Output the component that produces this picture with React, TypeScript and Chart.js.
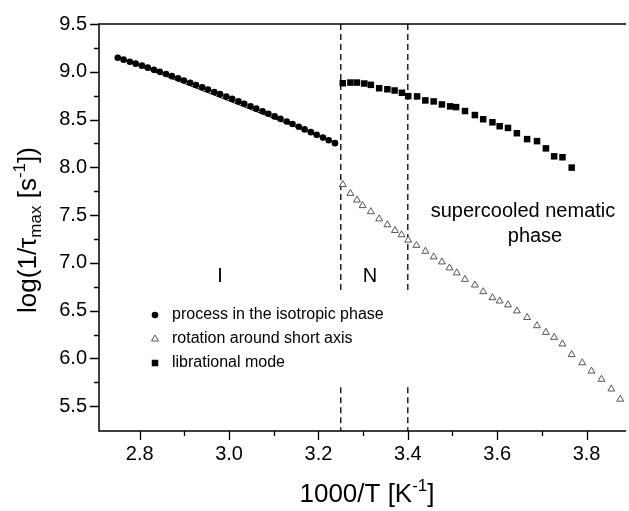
import { useEffect, useRef } from 'react';
import { Chart, registerables } from 'chart.js';

Chart.register(...registerables);

// ---- data ----
const isoX = [2.751, 2.764, 2.778, 2.791, 2.805, 2.818, 2.832, 2.845, 2.859, 2.872, 2.886, 2.899, 2.913, 2.926, 2.940, 2.953, 2.967, 2.980, 2.994, 3.007, 3.021, 3.034, 3.048, 3.061, 3.075, 3.088, 3.102, 3.115, 3.129, 3.142, 3.156, 3.169, 3.183, 3.196, 3.210, 3.223, 3.237];
const isoY = [9.147, 9.127, 9.105, 9.085, 9.064, 9.043, 9.020, 8.999, 8.977, 8.954, 8.931, 8.909, 8.885, 8.862, 8.837, 8.814, 8.789, 8.766, 8.740, 8.716, 8.690, 8.665, 8.639, 8.614, 8.587, 8.561, 8.533, 8.507, 8.479, 8.453, 8.424, 8.397, 8.368, 8.340, 8.311, 8.283, 8.253];

const fitX = [2.751, 3.237];
const fitY = [9.150, 8.262];

const rotX = [3.2545, 3.2716, 3.2863, 3.2989, 3.3173, 3.3359, 3.3543, 3.3713, 3.3860, 3.4009, 3.4193, 3.4392, 3.4579, 3.4763, 3.4933, 3.5095, 3.5279, 3.5501, 3.5687, 3.5894, 3.6055, 3.6242, 3.6441, 3.6670, 3.6891, 3.7091, 3.7275, 3.7461, 3.7667, 3.7904, 3.8111, 3.8333, 3.8554, 3.8754];
const rotY = [7.820, 7.727, 7.658, 7.599, 7.536, 7.460, 7.398, 7.339, 7.294, 7.238, 7.183, 7.121, 7.062, 7.010, 6.947, 6.895, 6.827, 6.768, 6.698, 6.635, 6.601, 6.560, 6.497, 6.428, 6.342, 6.272, 6.220, 6.151, 6.040, 5.954, 5.867, 5.781, 5.680, 5.573];

const libX = [3.2545, 3.2716, 3.2863, 3.3027, 3.3173, 3.3359, 3.3543, 3.3705, 3.3869, 3.4009, 3.4208, 3.4392, 3.4579, 3.4763, 3.4947, 3.5080, 3.5280, 3.5501, 3.5687, 3.5894, 3.6055, 3.6242, 3.6441, 3.6670, 3.6891, 3.7091, 3.7275, 3.7461, 3.7667];
const libY = [8.880, 8.887, 8.887, 8.877, 8.863, 8.828, 8.817, 8.804, 8.780, 8.745, 8.742, 8.700, 8.690, 8.658, 8.638, 8.630, 8.589, 8.547, 8.503, 8.471, 8.430, 8.412, 8.357, 8.295, 8.274, 8.198, 8.115, 8.105, 7.997];

const phaseLineX = [3.25, 3.4];
const phaseLineYSegments = [[9.5, 6.684], [5.697, 5.24]];

const xMajorTicks = [2.8, 3.0, 3.2, 3.4, 3.6, 3.8];
const xMinorTicks = [2.9, 3.1, 3.3, 3.5, 3.7];
const yMajorTicks = [5.5, 6.0, 6.5, 7.0, 7.5, 8.0, 8.5, 9.0, 9.5];
const yMinorTicks = [5.75, 6.25, 6.75, 7.25, 7.75, 8.25, 8.75, 9.25];

const legendLabels = ['process in the isotropic phase', 'rotation around short axis', 'librational mode'];
const annotations = [
  { text: 'I', x: 220, y: 276 },
  { text: 'N', x: 370, y: 276 },
  { text: 'supercooled nematic', x: 523, y: 211 },
  { text: 'phase', x: 535, y: 236 },
];

const FONT = '"Liberation Sans", Arial, sans-serif';

type Part = { t: string; k?: 'sub' | 'sup' };

function drawRich(ctx: CanvasRenderingContext2D, parts: Part[], cx: number, cy: number, size: number) {
  const small = Math.round(size * 0.65);
  let total = 0;
  for (const p of parts) {
    ctx.font = `${p.k ? small : size}px ${FONT}`;
    total += ctx.measureText(p.t).width;
  }
  let x = cx - total / 2;
  ctx.textBaseline = 'middle';
  ctx.textAlign = 'left';
  for (const p of parts) {
    ctx.font = `${p.k ? small : size}px ${FONT}`;
    const dy = p.k === 'sub' ? size * 0.3 : p.k === 'sup' ? -size * 0.35 : 0;
    ctx.fillText(p.t, x, cy + dy);
    x += ctx.measureText(p.t).width;
  }
}

function drawMarker(ctx: CanvasRenderingContext2D, style: string, x: number, y: number, r: number) {
  ctx.beginPath();
  if (style === 'circle') {
    ctx.arc(x, y, r, 0, Math.PI * 2);
    ctx.fill();
  } else if (style === 'triangle') {
    ctx.moveTo(x, y - r);
    ctx.lineTo(x + r * 0.866, y + r * 0.5);
    ctx.lineTo(x - r * 0.866, y + r * 0.5);
    ctx.closePath();
    ctx.fill();
    ctx.stroke();
  } else {
    const s = r * Math.SQRT1_2;
    ctx.rect(x - s, y - s, 2 * s, 2 * s);
    ctx.fill();
  }
}

const framePlugin = {
  id: 'frame',
  afterDraw(chart: any) {
    const ctx: CanvasRenderingContext2D = chart.ctx;
    const { left, right, top, bottom } = chart.chartArea;
    const xs = chart.scales.x;
    const ys = chart.scales.y;
    ctx.save();
    ctx.strokeStyle = '#000';
    ctx.lineWidth = 1.5;
    ctx.beginPath();
    ctx.moveTo(right + 2, top);
    ctx.lineTo(left, top);
    ctx.lineTo(left, bottom);
    ctx.lineTo(right + 2, bottom);
    ctx.stroke();
    ctx.lineWidth = 1.3;
    ctx.beginPath();
    for (const v of xMajorTicks) {
      const px = Math.round(xs.getPixelForValue(v)) + 0.5;
      ctx.moveTo(px, bottom);
      ctx.lineTo(px, bottom + 9);
    }
    for (const v of xMinorTicks) {
      const px = Math.round(xs.getPixelForValue(v)) + 0.5;
      ctx.moveTo(px, bottom);
      ctx.lineTo(px, bottom + 5);
    }
    for (const v of yMajorTicks) {
      const py = Math.round(ys.getPixelForValue(v)) + 0.5;
      ctx.moveTo(left, py);
      ctx.lineTo(left - 9, py);
    }
    for (const v of yMinorTicks) {
      const py = Math.round(ys.getPixelForValue(v)) + 0.5;
      ctx.moveTo(left, py);
      ctx.lineTo(left - 5, py);
    }
    ctx.stroke();

    ctx.fillStyle = '#000';
    // x title
    drawRich(ctx, [{ t: '1000/T [K' }, { t: '-1', k: 'sup' }, { t: ']' }], 367, 495, 26);
    // y title
    ctx.save();
    ctx.translate(29, 230);
    ctx.rotate(-Math.PI / 2);
    drawRich(ctx, [{ t: 'log(1/τ' }, { t: 'max', k: 'sub' }, { t: ' [s' }, { t: '-1', k: 'sup' }, { t: '])' }], 0, 0, 26);
    ctx.restore();

    // annotations
    ctx.font = `20px ${FONT}`;
    ctx.textAlign = 'center';
    ctx.textBaseline = 'middle';
    for (const a of annotations) ctx.fillText(a.text, a.x, a.y);

    // legend
    const styles = ['circle', 'triangle', 'rect'];
    const fills = ['#000', '#fff', '#000'];
    const strokes = ['#000', '#444', '#000'];
    const radii = [3.3, 4, 4.6];
    const rowY = [315, 339, 363];
    for (let i = 0; i < legendLabels.length; i++) {
      ctx.fillStyle = fills[i];
      ctx.strokeStyle = strokes[i];
      ctx.lineWidth = 0.9;
      drawMarker(ctx, styles[i], 155, rowY[i], radii[i]);
      ctx.fillStyle = '#000';
      ctx.font = `16px ${FONT}`;
      ctx.textAlign = 'left';
      ctx.textBaseline = 'middle';
      ctx.fillText(legendLabels[i], 172, rowY[i]);
    }
    ctx.restore();
  },
};

export default function App() {
  const ref = useRef<HTMLCanvasElement | null>(null);
  useEffect(() => {
    if (!ref.current) return;
    const pts = (xs: number[], ys: number[]) => xs.map((x, i) => ({ x, y: ys[i] }));
    const phaseDatasets = phaseLineX.map((x) => ({
      type: 'line' as const,
      data: [
        { x, y: phaseLineYSegments[0][0] },
        { x, y: phaseLineYSegments[0][1] },
        { x, y: null },
        { x, y: phaseLineYSegments[1][0] },
        { x, y: phaseLineYSegments[1][1] },
      ],
      borderColor: '#000',
      borderWidth: 1.3,
      borderDash: [6, 4],
      pointRadius: 0,
      spanGaps: false,
      fill: false,
      order: 5,
    }));
    const chart = new Chart(ref.current, {
      type: 'scatter',
      data: {
        datasets: [
          {
            label: legendLabels[0],
            data: pts(isoX, isoY),
            pointStyle: 'circle',
            pointRadius: 3.3,
            backgroundColor: '#000',
            borderColor: '#000',
            borderWidth: 0,
            order: 1,
          },
          {
            type: 'line',
            data: pts(fitX, fitY),
            borderColor: '#000',
            borderWidth: 1,
            pointRadius: 0,
            fill: false,
            order: 2,
          } as any,
          {
            label: legendLabels[1],
            data: pts(rotX, rotY),
            pointStyle: 'triangle',
            pointRadius: 4,
            backgroundColor: '#fff',
            borderColor: '#444',
            borderWidth: 0.9,
            order: 1,
          },
          {
            label: legendLabels[2],
            data: pts(libX, libY),
            pointStyle: 'rect',
            pointRadius: 4.6,
            backgroundColor: '#000',
            borderColor: '#000',
            borderWidth: 0,
            order: 1,
          },
          ...(phaseDatasets as any[]),
        ],
      },
      options: {
        animation: false,
        responsive: false,
        devicePixelRatio: 1,
        layout: { padding: { top: 21, left: 0, right: 0, bottom: 0 } },
        plugins: { legend: { display: false }, tooltip: { enabled: false } },
        scales: {
          x: {
            type: 'linear',
            min: 2.709,
            max: 3.884,
            afterBuildTicks: (s: any) => {
              s.ticks = xMajorTicks.map((v) => ({ value: v }));
            },
            afterFit: (s: any) => {
              s.height = 80;
            },
            grid: { display: false, drawTicks: false },
            border: { display: false },
            ticks: {
              autoSkip: false,
              maxRotation: 0,
              padding: 11,
              color: '#000',
              font: { family: FONT, size: 20 },
              callback: (v: any) => Number(v).toFixed(1),
            },
          },
          y: {
            type: 'linear',
            min: 5.24,
            max: 9.5,
            afterBuildTicks: (s: any) => {
              s.ticks = yMajorTicks.map((v) => ({ value: v }));
            },
            afterFit: (s: any) => {
              s.width = 99;
            },
            grid: { display: false, drawTicks: false },
            border: { display: false },
            ticks: {
              autoSkip: false,
              padding: 12,
              color: '#000',
              font: { family: FONT, size: 20 },
              callback: (v: any) => Number(v).toFixed(1),
            },
          },
        },
      },
      plugins: [framePlugin],
    });
    return () => chart.destroy();
  }, []);
  return (
    <div style={{ position: 'absolute', left: 0, top: 0, width: 629, height: 511, background: '#fff', overflow: 'hidden' }}>
      <canvas ref={ref} width={629} height={511} style={{ display: 'block' }} />
    </div>
  );
}
